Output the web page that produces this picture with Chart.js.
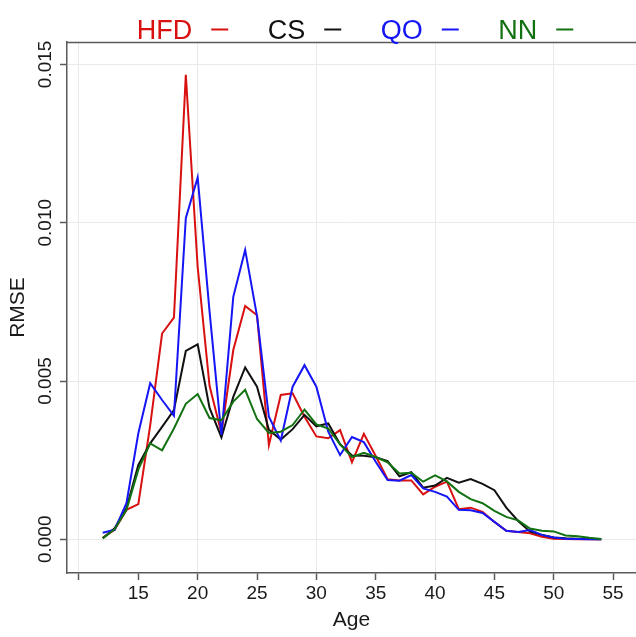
<!DOCTYPE html>
<html>
<head>
<meta charset="utf-8">
<script src="https://cdn.jsdelivr.net/npm/chart.js@4"></script>
<style>
  html, body { margin: 0; padding: 0; background: #ffffff; }
  #wrap { width: 636px; height: 637px; position: relative; }
</style>
</head>
<body>
<div id="wrap"><canvas id="c" width="636" height="637"></canvas></div>
<script>
// ---- data ----
const ages = [12,13,14,15,16,17,18,19,20,21,22,23,24,25,26,27,28,29,30,31,32,33,34,35,36,37,38,39,40,41,42,43,44,45,46,47,48,49,50,51,52,53,54];

const hfd = [0.00005,0.00030,0.00093,0.00111,0.00360,0.00650,0.00700,0.01467,0.00860,0.00485,
             0.00335,0.00598,0.00737,0.00708,0.00298,0.00456,0.00461,0.00387,0.00325,0.00319,
             0.00345,0.00243,0.00333,0.00263,0.00190,0.00186,0.00186,0.00142,0.00166,0.00182,
             0.00095,0.00100,0.00087,0.00055,0.00027,0.00023,0.00019,0.00008,0.00002,0.00001,
             0.000005,0.000002,0.00000];

const cs  = [0.00003,0.00035,0.00098,0.00235,0.00303,0.00355,0.00408,0.00595,0.00616,0.00415,
             0.00322,0.00450,0.00543,0.00482,0.00346,0.00315,0.00348,0.00393,0.00357,0.00366,
             0.00300,0.00265,0.00264,0.00259,0.00247,0.00199,0.00212,0.00163,0.00170,0.00194,
             0.00179,0.00190,0.00175,0.00155,0.00100,0.00058,0.00024,0.00014,0.00006,0.00003,
             0.00002,0.00001,0.00000];

const qo  = [0.00021,0.00030,0.00114,0.00335,0.00493,0.00440,0.00390,0.01014,0.01143,0.00720,
             0.00330,0.00766,0.00914,0.00705,0.00387,0.00312,0.00482,0.00550,0.00482,0.00340,
             0.00266,0.00323,0.00307,0.00245,0.00187,0.00185,0.00203,0.00161,0.00150,0.00135,
             0.00093,0.00092,0.00083,0.00055,0.00027,0.00023,0.00029,0.00014,0.00006,0.00002,
             0.00001,0.000005,0.00000];

const nn  = [0.00003,0.00032,0.00093,0.00220,0.00303,0.00281,0.00350,0.00428,0.00459,0.00383,
             0.00376,0.00435,0.00472,0.00380,0.00336,0.00340,0.00361,0.00410,0.00363,0.00350,
             0.00300,0.00260,0.00273,0.00260,0.00243,0.00208,0.00210,0.00182,0.00202,0.00183,
             0.00150,0.00127,0.00114,0.00090,0.00071,0.00060,0.00034,0.00027,0.00025,0.00012,
             0.00010,0.00005,0.00001];

const seriesNames  = ["HFD", "CS", "QO", "NN"];
const seriesColors = ["#d81010", "#111111", "#1515f5", "#127212"];

const xTickValues = [10,15,20,25,30,35,40,45,50,55];
const xTickLabels = ["", "15","20","25","30","35","40","45","50","55"];
const yTickValues = [0, 0.005, 0.010, 0.015];
const yTickLabels = ["0.000", "0.005", "0.010", "0.015"];

const xTitle = "Age";
const yTitle = "RMSE";

// ---- chart ----
const AXIS = "#5a5a5a";
const GRID = "#e9e9e9";
const TXT  = "#1a1a1a";
const FONT = "'Liberation Sans', Arial, Helvetica, sans-serif";

const seriesData = [hfd, cs, qo, nn];
const datasets = seriesData.map((vals, i) => ({
  label: seriesNames[i],
  data: ages.map((a, j) => ({ x: a, y: vals[j] })),
  borderColor: seriesColors[i],
  backgroundColor: seriesColors[i],
  borderWidth: 2,
  pointRadius: 0,
  tension: 0,
  fill: false,
  order: 4 - i
}));

const extrasPlugin = {
  id: 'extras',
  afterDraw(chart) {
    const ctx = chart.ctx;
    const ca = chart.chartArea;
    const ys = chart.scales.y;
    ctx.save();
    // top border of panel
    ctx.strokeStyle = AXIS;
    ctx.lineWidth = 1.5;
    ctx.beginPath();
    ctx.moveTo(ca.left, ca.top + 0.5);
    ctx.lineTo(ca.right, ca.top + 0.5);
    ctx.stroke();

    // y tick labels (rotated)
    ctx.fillStyle = TXT;
    ctx.font = "19px " + FONT;
    ctx.textAlign = "center";
    ctx.textBaseline = "middle";
    yTickValues.forEach((v, i) => {
      const y = ys.getPixelForValue(v);
      ctx.save();
      ctx.translate(46, y);
      ctx.rotate(-Math.PI / 2);
      ctx.fillText(yTickLabels[i], 0, 0);
      ctx.restore();
    });

    // y title
    ctx.font = "21px " + FONT;
    ctx.save();
    ctx.translate(18, (ca.top + ca.bottom) / 2);
    ctx.rotate(-Math.PI / 2);
    ctx.fillText(yTitle, 0, 0);
    ctx.restore();

    // legend on top: "NAME –"
    ctx.font = "27px " + FONT;
    ctx.textAlign = "left";
    ctx.textBaseline = "alphabetic";
    const gapText = 19, dashLen = 17, gapItem = 39.5;
    let total = 0;
    const widths = seriesNames.map(n => ctx.measureText(n).width);
    widths.forEach((w, i) => { total += w + gapText + dashLen + (i < widths.length - 1 ? gapItem : 0); });
    let x = 355 - total / 2;
    const baseY = 39;
    seriesNames.forEach((n, i) => {
      ctx.fillStyle = seriesColors[i];
      ctx.fillText(n, x, baseY);
      x += widths[i] + gapText;
      ctx.strokeStyle = seriesColors[i];
      ctx.lineWidth = 2;
      ctx.beginPath();
      ctx.moveTo(x, 29.5);
      ctx.lineTo(x + dashLen, 29.5);
      ctx.stroke();
      x += dashLen + gapItem;
    });
    ctx.restore();
  }
};

new Chart(document.getElementById('c'), {
  type: 'line',
  data: { datasets },
  options: {
    responsive: false,
    animation: false,
    devicePixelRatio: 1,
    layout: { padding: { top: 42, right: 0, bottom: 0, left: 0 } },
    plugins: { legend: { display: false }, tooltip: { enabled: false } },
    scales: {
      x: {
        type: 'linear',
        min: 8.99,
        max: 56.93,
        afterBuildTicks: s => { s.ticks = xTickValues.map(v => ({ value: v })); },
        afterFit: s => { s.height = 64; },
        ticks: {
          callback: (v) => { const k = xTickValues.indexOf(v); return k >= 0 ? xTickLabels[k] : ''; },
          color: TXT,
          font: { family: FONT, size: 19 },
          padding: 2,
          maxRotation: 0,
          autoSkip: false
        },
        grid: {
          color: (c) => (c.tick && c.tick.value % 10 === 0) ? GRID : 'rgba(0,0,0,0)',
          tickColor: AXIS,
          tickLength: 7,
          lineWidth: 1,
          tickWidth: 1.5
        },
        border: { display: true, color: AXIS, width: 1.5 },
        title: {
          display: true,
          text: xTitle,
          color: TXT,
          font: { family: FONT, size: 21 },
          padding: { top: 0, bottom: 4 }
        }
      },
      y: {
        type: 'linear',
        min: -0.001064,
        max: 0.015708,
        afterBuildTicks: s => { s.ticks = yTickValues.map(v => ({ value: v })); },
        afterFit: s => { s.width = 67; },
        ticks: { display: false },
        grid: {
          color: GRID,
          tickColor: AXIS,
          tickLength: 7,
          lineWidth: 1,
          tickWidth: 1.5
        },
        border: { display: true, color: AXIS, width: 1.5 }
      }
    }
  },
  plugins: [extrasPlugin]
});
</script>
</body>
</html>
